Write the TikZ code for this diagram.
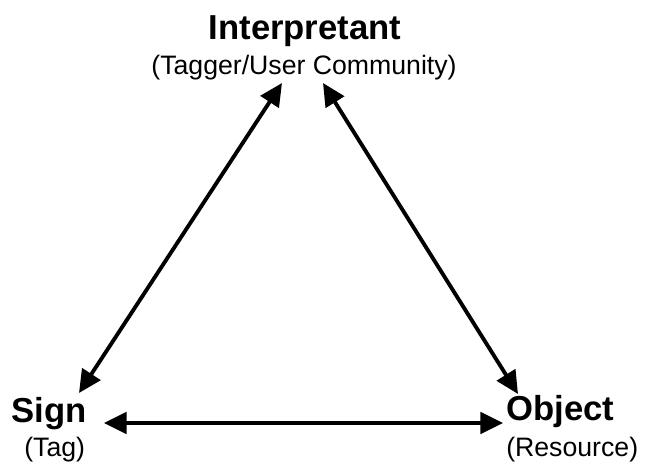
\documentclass[tikz,border=0pt]{standalone}
\usepackage{fontspec}
\setmainfont{Liberation Sans}
\usetikzlibrary{arrows.meta}
\tikzset{
  title/.style={inner sep=0pt, font=\fontsize{26pt}{30pt}\selectfont\bfseries},
  subtitle/.style={inner sep=0pt, font=\fontsize{20pt}{24pt}\selectfont},
  link/.style={line width=2.9pt, {Triangle[length=17pt,width=16pt]}-{Triangle[length=17pt,width=16pt]}}
}
\begin{document}
\begin{tikzpicture}[x=0.75pt,y=-0.75pt]
\useasboundingbox (0,0) rectangle (647,464);
% labels
\node[title, anchor=base] (interp) at (305,39) {Interpretant};
\node[subtitle, anchor=base] (interpsub) at (304,74) {(Tagger/User Community)};
\node[title, anchor=base west] (sign) at (11,422) {Sign};
\node[subtitle, anchor=base west] (signsub) at (24,456) {(Tag)};
\node[title, anchor=base west] (object) at (506,420) {Object};
\node[subtitle, anchor=base west] (objectsub) at (506,456) {(Resource)};
% arrow end points
\coordinate (iL) at (282,83);
\coordinate (iR) at (323,83);
\coordinate (sT) at (79,393);
\coordinate (sR) at (104,423);
\coordinate (oT) at (518,394);
\coordinate (oL) at (503,423);
% connectors
\draw[link] (iL) -- (sT);
\draw[link] (iR) -- (oT);
\draw[link] (sR) -- (oL);
\end{tikzpicture}
\end{document}
